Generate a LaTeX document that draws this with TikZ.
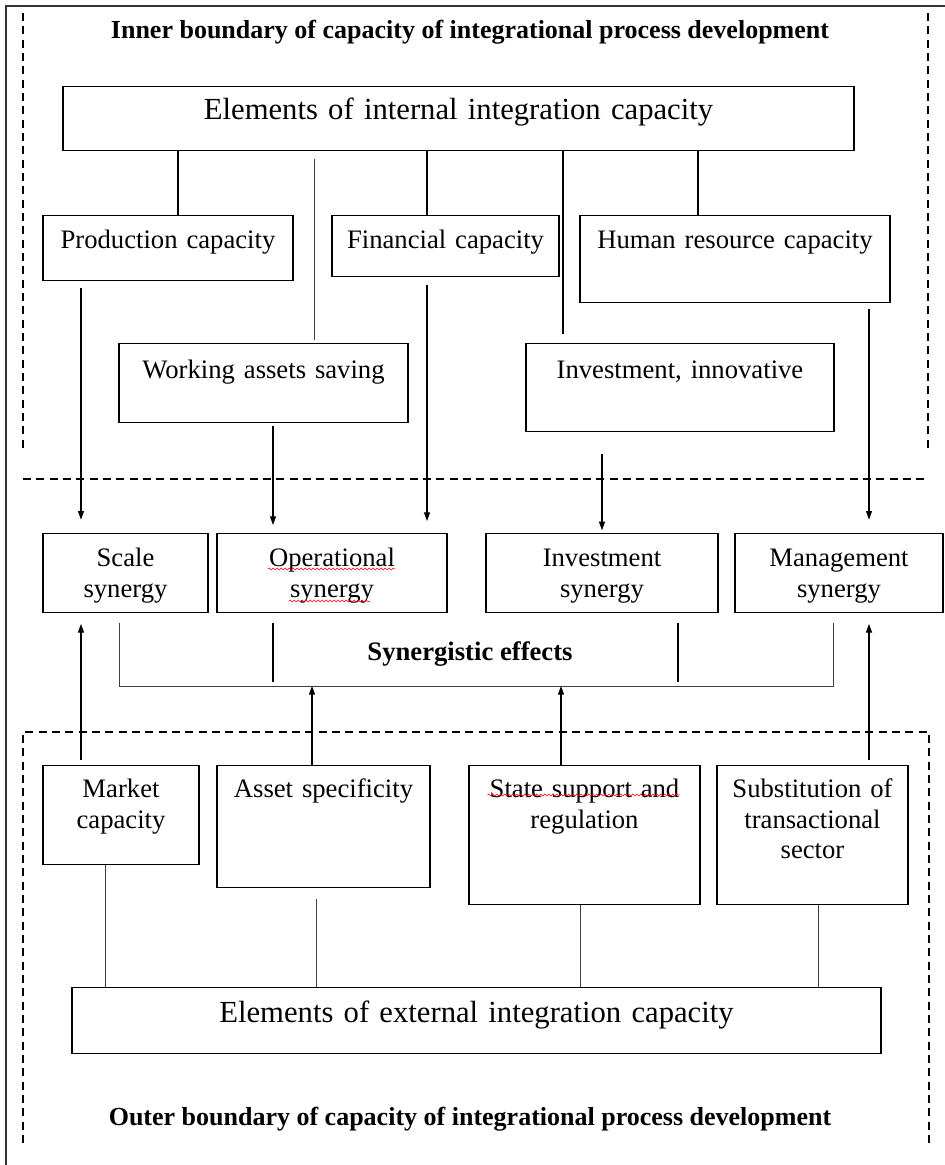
\documentclass[tikz,border=0pt]{standalone}
\usepackage{fontspec}
\setmainfont{Liberation Serif}
\usetikzlibrary{arrows.meta,positioning,decorations.pathmorphing}

% one unit = one pixel of the layout grid
\newcommand\pxu{0.75pt}
\newcommand\lblfont{\fontsize{20}{23}\selectfont}
\newcommand\headfont{\fontsize{23}{27}\selectfont}
\newcommand\titlefont{\fontsize{19.5}{23}\selectfont\bfseries}

\begin{document}
\begin{tikzpicture}[x=\pxu, y=-\pxu,
  cell/.style={draw, line width=0.9pt, inner sep=0pt, anchor=north,
               align=center, text height=33*\pxu, font=\lblfont},
  head/.style={cell, font=\headfont},
  title/.style={anchor=base, inner sep=0pt, font=\titlefont},
  bound/.style={dash pattern=on 6pt off 4pt, line width=0.9pt},
  link/.style={line width=0.8pt},
  thin/.style={line width=0.6pt, draw=black!75},
  arr/.style={-{Triangle[length=6.5pt,width=4.5pt]}, line width=0.8pt},
  squiggle/.style={draw=red, line width=0.45pt, decorate,
                   decoration={snake, segment length=3pt, amplitude=0.7pt}}
]
  \useasboundingbox (0,0) rectangle (945,1165);
  \fill[white] (0,0) rectangle (945,1165);
  \draw[line width=1.4pt, black!80] (6,1165) -- (6,6) -- (945,6);

  % boundaries
  \draw[bound] (23,13) -- (23,452);
  \draw[bound] (928,13) -- (928,452);
  \draw[bound] (23,479) -- (929,479);
  \draw[bound] (23,1143) -- (23,732) -- (929,732) -- (929,1143);

  \node[title] (innertitle) at (470,38)
    {Inner boundary of capacity of integrational process development};
  \node[title] (outertitle) at (470,1125)
    {Outer boundary of capacity of integrational process development};

  % internal capacity
  \node[head, text width=791*\pxu, text depth=31*\pxu] (inner) at (458.5,86)
    {Elements of internal integration capacity};
  \node[cell, text width=250*\pxu, text depth=32*\pxu] (prod) at (168,215)
    {Production capacity};
  \node[cell, text width=227*\pxu, text depth=28*\pxu] (fin) at (445.5,215)
    {Financial capacity};
  \node[cell, text width=310*\pxu, text depth=54*\pxu] (hum) at (735,215)
    {Human resource capacity};
  \node[cell, text width=289*\pxu, text height=35*\pxu, text depth=44*\pxu]
    (work) at (263.5,343) {Working assets saving};
  \node[cell, text width=308*\pxu, text height=35*\pxu, text depth=53*\pxu]
    (innov) at (680,343) {Investment, innovative};

  % synergies
  \node[cell, text width=165*\pxu, text depth=46*\pxu] (scale) at (125.5,533)
    {Scale\\synergy};
  \node[cell, text width=230*\pxu, text depth=46*\pxu] (oper) at (332,533)
    {Operational\\synergy};
  \node[cell, text width=232*\pxu, text depth=46*\pxu] (invsyn) at (602,533)
    {Investment\\synergy};
  \node[cell, text width=208*\pxu, text depth=46*\pxu] (mgmt) at (839,533)
    {Management\\synergy};
  \node[title, font=\fontsize{20}{23}\selectfont\bfseries] (effects) at (470,660)
    {Synergistic effects};

  % external capacity
  \node[cell, text width=156*\pxu, text height=32*\pxu, text depth=67*\pxu]
    (market) at (121,765) {Market\\capacity};
  \node[cell, text width=213*\pxu, text height=32*\pxu, text depth=90*\pxu]
    (asset) at (323.5,765) {Asset specificity};
  \node[cell, text width=231*\pxu, text height=32*\pxu, text depth=107*\pxu]
    (state) at (584.5,765) {State support and\\regulation};
  \node[cell, text width=191*\pxu, text height=32*\pxu, text depth=107*\pxu]
    (subst) at (812.5,765) {Substitution of\\transactional\\sector};
  \node[head, text width=809*\pxu, text height=35*\pxu, text depth=31*\pxu]
    (ext) at (476.5,987) {Elements of external integration capacity};

  % internal tree
  \draw[link] ([xshift=10*\pxu]prod.north) -- ([xshift=10*\pxu]prod.north |- inner.south);
  \draw[link] ([xshift=-18.5*\pxu]fin.north) -- ([xshift=-18.5*\pxu]fin.north |- inner.south);
  \draw[link] ([xshift=-37*\pxu]hum.north) -- ([xshift=-37*\pxu]hum.north |- inner.south);
  \draw[thin, shorten <=2pt, shorten >=6pt] ([xshift=50.5*\pxu]work.north)
    -- ([xshift=50.5*\pxu]work.north |- inner.south);
  \draw[link, shorten <=7pt] ([xshift=-117*\pxu]innov.north)
    -- ([xshift=-117*\pxu]innov.north |- inner.south);

  % capacities into synergies
  \draw[arr, shorten <=5pt, shorten >=10pt] ([xshift=-87*\pxu]prod.south)
    -- ([xshift=-87*\pxu]prod.south |- scale.north);
  \draw[arr, shorten <=2pt, shorten >=6pt] ([xshift=9.5*\pxu]work.south)
    -- ([xshift=9.5*\pxu]work.south |- oper.north);
  \draw[arr, shorten <=6pt, shorten >=9pt] ([xshift=-18.5*\pxu]fin.south)
    -- ([xshift=-18.5*\pxu]fin.south |- oper.north);
  \draw[arr, shorten <=16pt, shorten >=2pt] (invsyn.north |- innov.south) -- (invsyn.north);
  \draw[arr, shorten <=4pt, shorten >=10pt] ([xshift=134*\pxu]hum.south)
    -- ([xshift=134*\pxu]hum.south |- mgmt.north);

  % synergistic effects bar
  \coordinate (barL) at (119,686);
  \coordinate (barR) at (833,686);
  \draw[thin, shorten <=7pt, shorten >=7pt] (scale.south -| barL) -- (barL)
    -- (barR) -- (mgmt.south -| barR);
  \draw[link, shorten <=7pt, shorten >=3pt] ([xshift=-59*\pxu]oper.south)
    -- ([xshift=-59*\pxu]oper.south |- barL);
  \draw[link, shorten <=7pt, shorten >=3pt] ([xshift=76*\pxu]invsyn.south)
    -- ([xshift=76*\pxu]invsyn.south |- barL);

  % external factors upwards
  \draw[arr, shorten <=4pt, shorten >=8pt] ([xshift=-40*\pxu]market.north)
    -- ([xshift=-40*\pxu]market.north |- scale.south);
  \draw[arr, shorten <=4pt, shorten >=8pt] ([xshift=56.5*\pxu]subst.north)
    -- ([xshift=56.5*\pxu]subst.north |- mgmt.south);
  \draw[arr] ([xshift=-11.5*\pxu]asset.north) -- ([xshift=-11.5*\pxu]asset.north |- barL);
  \draw[arr] ([xshift=-23.5*\pxu]state.north) -- ([xshift=-23.5*\pxu]state.north |- barL);

  % external tree
  \draw[thin] ([xshift=-16*\pxu]market.south) -- ([xshift=-16*\pxu]market.south |- ext.north);
  \draw[thin, shorten <=8pt] ([xshift=-7.5*\pxu]asset.south)
    -- ([xshift=-7.5*\pxu]asset.south |- ext.north);
  \draw[thin] ([xshift=-4.5*\pxu]state.south) -- ([xshift=-4.5*\pxu]state.south |- ext.north);
  \draw[thin] ([xshift=5.5*\pxu]subst.south) -- ([xshift=5.5*\pxu]subst.south |- ext.north);

  % wavy underlines
  \draw[squiggle] ([shift={(-64,36)}]oper.north) -- ([shift={(63,36)}]oper.north);
  \draw[squiggle] ([shift={(-43,68)}]oper.north) -- ([shift={(38,68)}]oper.north);
  \draw[squiggle] ([shift={(-97,30)}]state.north) -- ([shift={(95,30)}]state.north);
\end{tikzpicture}
\end{document}
